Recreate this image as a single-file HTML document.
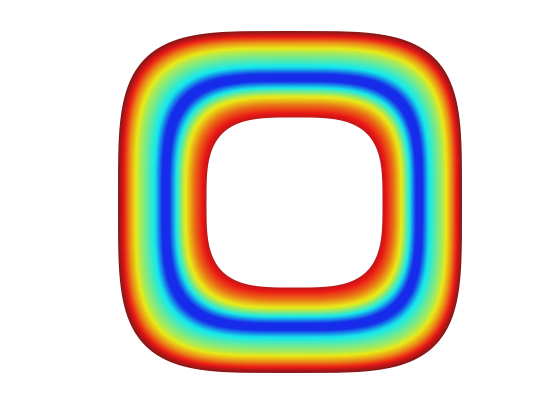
<!DOCTYPE html>
<html><head><meta charset="utf-8"><style>
html,body{margin:0;padding:0;background:#fff;}
svg{display:block;}
</style></head><body>
<svg id="chart" width="560" height="420" viewBox="0 0 560 420"></svg>
<script>
// radial profile: fraction from outer edge (0) to inner edge (1) and colormap value
const ringPos = [0, 0.04, 0.13, 0.24, 0.33, 0.42, 0.50, 0.58, 0.66, 0.75, 0.86, 1.0];
const ringVal = [1.0, 0.93, 0.74, 0.56, 0.46, 0.36, 0.15, 0.15, 0.38, 0.60, 0.77, 0.93];
const outerShape = [290, 202, 172, 171, 4.0];
const innerShape = [294.5, 202.5, 88, 85, 3.4];

function jet(v){
  v=Math.max(0,Math.min(1,v));
  const r=Math.max(0,Math.min(1,Math.min(4*v-1.5,-4*v+4.5)));
  const g=Math.max(0,Math.min(1,Math.min(4*v-0.5,-4*v+3.5)));
  const b=Math.max(0,Math.min(1,Math.min(4*v+0.5,-4*v+2.5)));
  const m=0.1, gr=0.55;
  const f=c=>Math.round(((1-m)*c+m*gr)*235+10);
  return 'rgb('+f(r)+','+f(g)+','+f(b)+')';
}
function valAt(s){
  for(let i=1;i<ringPos.length;i++){
    if(s<=ringPos[i]){const t=(s-ringPos[i-1])/(ringPos[i]-ringPos[i-1]);return ringVal[i-1]+t*(ringVal[i]-ringVal[i-1]);}
  }
  return ringVal[ringVal.length-1];
}
function shapePath(s){
  const c=outerShape.map((o,i)=>o+(innerShape[i]-o)*s);
  const [cx,cy,a,b,n]=c;let d='';
  for(let k=0;k<=160;k++){
    const th=k/160*2*Math.PI;const co=Math.cos(th),si=Math.sin(th);
    const x=cx+a*Math.sign(co)*Math.pow(Math.abs(co),2/n);
    const y=cy+b*Math.sign(si)*Math.pow(Math.abs(si),2/n);
    d+=(k?'L':'M')+x.toFixed(2)+' '+y.toFixed(2);
  }
  return d+'Z';
}
const svg=document.getElementById('chart');
const NS='http://www.w3.org/2000/svg';
const N=90;
for(let i=0;i<N;i++){
  const s=i/N;
  const p=document.createElementNS(NS,'path');
  p.setAttribute('d',shapePath(s));
  p.setAttribute('fill',jet(valAt(s+0.5/N)));
  
  
  svg.appendChild(p);
}
const hole=document.createElementNS(NS,'path');
hole.setAttribute('d',shapePath(1));
hole.setAttribute('fill','#fff');


svg.appendChild(hole);
</script>
</body></html>
